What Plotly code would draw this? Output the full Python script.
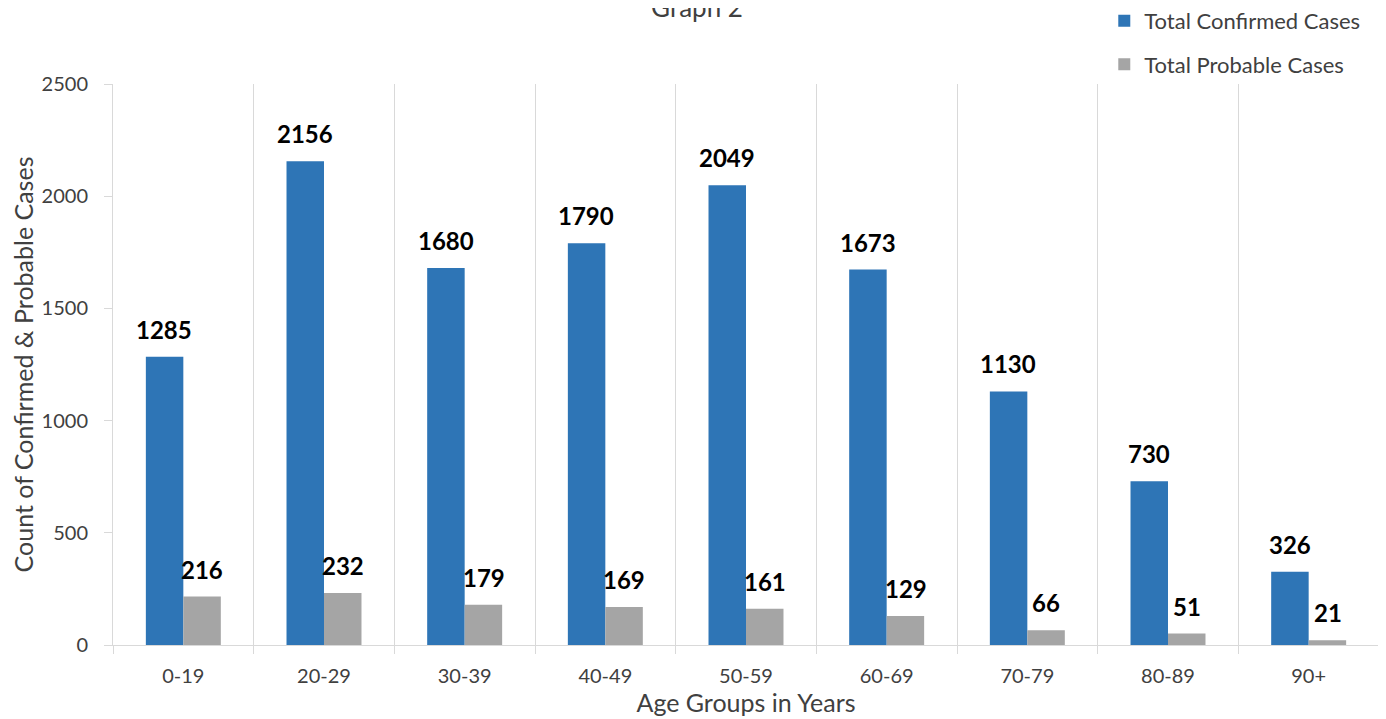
import plotly.graph_objects as go

categories = ["0-19", "20-29", "30-39", "40-49", "50-59", "60-69", "70-79", "80-89", "90+"]
confirmed = [1285, 2156, 1680, 1790, 2049, 1673, 1130, 730, 326]
probable = [216, 232, 179, 169, 161, 129, 66, 51, 21]
y_ticks = [0, 500, 1000, 1500, 2000, 2500]

FONT = "Lato"
BLUE = "#2E75B6"
GRAY = "#A5A5A5"
GRID = "#D9D9D9"
TXT = "#404040"

fig = go.Figure()
fig.add_trace(go.Bar(x=categories, y=confirmed, name="Total Confirmed Cases",
                     marker=dict(color=BLUE, line=dict(width=0)), legendgroup="a"))
fig.add_trace(go.Bar(x=categories, y=probable, name="Total Probable Cases",
                     marker=dict(color=GRAY, line=dict(width=0)), legendgroup="b"))

annotations = []
for cat, c, p in zip(categories, confirmed, probable):
    annotations.append(dict(x=cat, y=c, text=f"<b>{c}</b>", showarrow=False,
                            xref="x", yref="y", xanchor="center", yanchor="bottom",
                            xshift=-19, yshift=11,
                            font=dict(family=FONT, size=24, color="#000000")))
    annotations.append(dict(x=cat, y=p, text=f"<b>{p}</b>", showarrow=False,
                            xref="x", yref="y", xanchor="center", yanchor="bottom",
                            xshift=19, yshift=11,
                            font=dict(family=FONT, size=24, color="#000000")))

fig.update_layout(
    width=1378, height=711,
    margin=dict(l=105, r=7, t=76, b=74, autoexpand=False),
    paper_bgcolor="white", plot_bgcolor="white",
    barmode="group", bargap=0.467, bargroupgap=0,
    font=dict(family=FONT, size=20, color=TXT),
    title=dict(text="Graph 2", x=0.5, xref="container", xanchor="center",
               y=1.0, yref="container", yanchor="middle",
               font=dict(family=FONT, size=26, color=TXT)),
    legend=dict(x=0.783, xanchor="left", xref="paper",
                y=1.15, yanchor="top", yref="paper",
                traceorder="grouped", tracegroupgap=12,
                font=dict(family=FONT, size=22, color=TXT),
                bgcolor="rgba(0,0,0,0)"),
    annotations=annotations,
    xaxis=dict(type="category", tickson="boundaries", showgrid=True, gridcolor=GRID, gridwidth=1,
               showline=True, linecolor=GRID, linewidth=1,
               ticks="outside", ticklen=8, tickcolor=GRID,
               ticklabelstandoff=13,
               tickfont=dict(family=FONT, size=20, color=TXT),
               title=dict(text="Age Groups in Years", standoff=8,
                          font=dict(family=FONT, size=25, color=TXT))),
    yaxis=dict(range=[0, 2500], tickvals=y_ticks, showgrid=False, zeroline=False,
               showline=True, linecolor=GRID, linewidth=1,
               ticks="outside", ticklen=8, tickcolor=GRID,
               ticklabelstandoff=12,
               tickfont=dict(family=FONT, size=20, color=TXT),
               title=dict(text="Count of Confirmed &amp; Probable Cases", standoff=12,
                          font=dict(family=FONT, size=25, color=TXT))),
)

fig.write_html("out.html")
